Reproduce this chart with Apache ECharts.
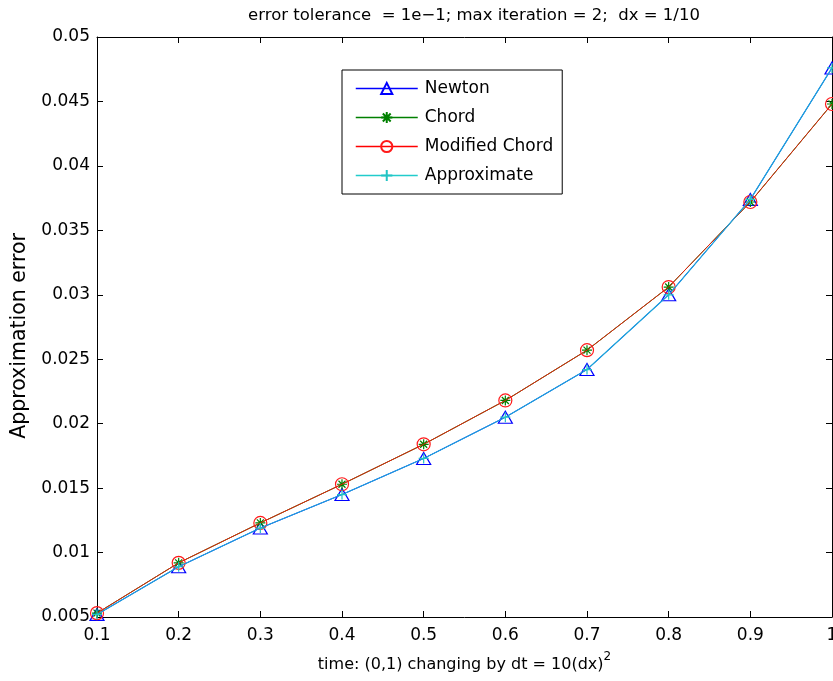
<!DOCTYPE html>
<html>
<head>
<meta charset="utf-8">
<script src="https://cdn.jsdelivr.net/npm/echarts@6/dist/echarts.min.js"></script>
<style>html,body{margin:0;padding:0;background:#fff}#c{width:833px;height:681px}</style>
</head>
<body>
<div id="c"></div>
<script>
var xValues = [0.1, 0.2, 0.3, 0.4, 0.5, 0.6, 0.7, 0.8, 0.9, 1.0];
var newton = [0.0052, 0.0089, 0.0119, 0.0145, 0.0173, 0.0205, 0.0242, 0.0300, 0.0374, 0.0476];
var chord = [0.0053, 0.0092, 0.0123, 0.0153, 0.0184, 0.0218, 0.0257, 0.0306, 0.0372, 0.0448];
var modifiedChord = [0.0053, 0.0092, 0.0123, 0.0153, 0.0184, 0.0218, 0.0257, 0.0306, 0.0372, 0.0448];
var approximate = [0.0052, 0.0089, 0.0119, 0.0145, 0.0173, 0.0205, 0.0242, 0.0300, 0.0374, 0.0476];
var xTickLabels = ['0.1', '0.2', '0.3', '0.4', '0.5', '0.6', '0.7', '0.8', '0.9', '1'];
var yTickLabels = ['0.005', '0.01', '0.015', '0.02', '0.025', '0.03', '0.035', '0.04', '0.045', '0.05'];
var seriesNames = ['Newton', 'Chord', 'Modified Chord', 'Approximate'];
var legendLineColors = ['#0000ff', '#008000', '#ff0000', '#22cccc'];

var FONT = 'DejaVu Sans';
function pairs(ys) { return xValues.map(function (x, i) { return [x, ys[i]]; }); }
function xFmt(v) { var i = Math.round(v * 10) - 1; return xTickLabels[i] !== undefined ? xTickLabels[i] : ''; }
function yFmt(v) { var i = Math.round(v / 0.005) - 1; return yTickLabels[i] !== undefined ? yTickLabels[i] : ''; }

var asterisk = 'path://M0,-10L0,10M-10,0L10,0M-7,-7L7,7M-7,7L7,-7';
var plus = 'path://M0,-10L0,10M-10,0L10,0';

var axisCommon = {
  axisLine: { show: true, lineStyle: { color: '#000', width: 1 } },
  axisTick: { show: true, inside: true, length: 6, lineStyle: { color: '#000', width: 1 } },
  splitLine: { show: false }
};

var chart = echarts.init(document.getElementById('c'), null, { renderer: 'canvas' });
chart.setOption({
  animation: false,
  backgroundColor: '#fff',
  textStyle: { fontFamily: FONT },
  title: {
    text: 'error tolerance  = 1e\u22121; max iteration = 2;  dx = 1/10',
    left: 469, top: 2, textAlign: 'center',
    textStyle: { fontFamily: FONT, fontSize: 16.5, fontWeight: 'normal', color: '#000' }
  },
  grid: { left: 97, right: 1, top: 37, bottom: 64, containLabel: false, outerBoundsMode: 'none' },
  legend: {
    orient: 'vertical', left: 342, top: 70,
    padding: [10, 9, 10, 13],
    itemWidth: 62, itemHeight: 14, itemGap: 12,
    borderColor: '#000', borderWidth: 1, backgroundColor: '#fff',
    textStyle: { fontFamily: FONT, fontSize: 17, color: '#000', padding: [0, 0, 0, 2] },
    data: seriesNames.map(function (n, i) {
      return { name: n, lineStyle: { color: legendLineColors[i], width: 1.5, opacity: 1 } };
    })
  },
  xAxis: [
    Object.assign({
      type: 'value', min: 0.1, max: 1, interval: 0.1, position: 'bottom',
      axisLabel: { formatter: xFmt, fontFamily: FONT, fontSize: 17, color: '#000', margin: 10 },
      name: '{a|time: (0,1) changing by dt = 10(dx)}{s|2}',
      nameLocation: 'middle', nameGap: 34,
      nameTextStyle: {
        rich: {
          a: { fontFamily: FONT, fontSize: 16, color: '#000', lineHeight: 22, verticalAlign: 'bottom' },
          s: { fontFamily: FONT, fontSize: 12, color: '#000', lineHeight: 12, verticalAlign: 'top' }
        }
      }
    }, axisCommon),
    Object.assign({
      type: 'value', min: 0.1, max: 1, interval: 0.1, position: 'top',
      axisLabel: { show: false }
    }, axisCommon)
  ],
  yAxis: [
    Object.assign({
      type: 'value', min: 0.005, max: 0.05, interval: 0.005, position: 'left',
      axisLabel: { formatter: yFmt, fontFamily: FONT, fontSize: 17, color: '#000', margin: 7 },
      name: 'Approximation error', nameLocation: 'middle', nameGap: 66,
      nameTextStyle: { fontFamily: FONT, fontSize: 20.5, color: '#000', padding: [0, 18, 0, 0] }
    }, axisCommon),
    Object.assign({
      type: 'value', min: 0.005, max: 0.05, interval: 0.005, position: 'right',
      axisLabel: { show: false }
    }, axisCommon)
  ],
  series: [
    {
      name: seriesNames[0], type: 'line', data: pairs(newton),
      symbol: 'triangle', symbolSize: [14, 12], showAllSymbol: true,
      lineStyle: { color: '#0000ff', width: 1 },
      itemStyle: { color: 'rgba(0,0,0,0)', borderColor: '#0000ff', borderWidth: 1.2 },
      z: 2
    },
    {
      name: seriesNames[1], type: 'line', data: pairs(chord),
      symbol: asterisk, symbolSize: 10, showAllSymbol: true,
      lineStyle: { color: '#008000', width: 1 },
      itemStyle: { color: 'rgba(0,0,0,0)', borderColor: '#008000', borderWidth: 1.2 },
      z: 3
    },
    {
      name: seriesNames[2], type: 'line', data: pairs(modifiedChord),
      symbol: 'circle', symbolSize: 13, showAllSymbol: true,
      lineStyle: { color: '#e61e0a', width: 1 },
      itemStyle: { color: 'rgba(0,0,0,0)', borderColor: '#ff1a1a', borderWidth: 1.2 },
      z: 4
    },
    {
      name: seriesNames[3], type: 'line', data: pairs(approximate),
      symbol: plus, symbolSize: 10, showAllSymbol: true,
      lineStyle: { color: '#1ca6da', width: 1.2 },
      itemStyle: { color: 'rgba(0,0,0,0)', borderColor: '#22c4c4', borderWidth: 1.2 },
      z: 5
    }
  ]
});
</script>
</body>
</html>
